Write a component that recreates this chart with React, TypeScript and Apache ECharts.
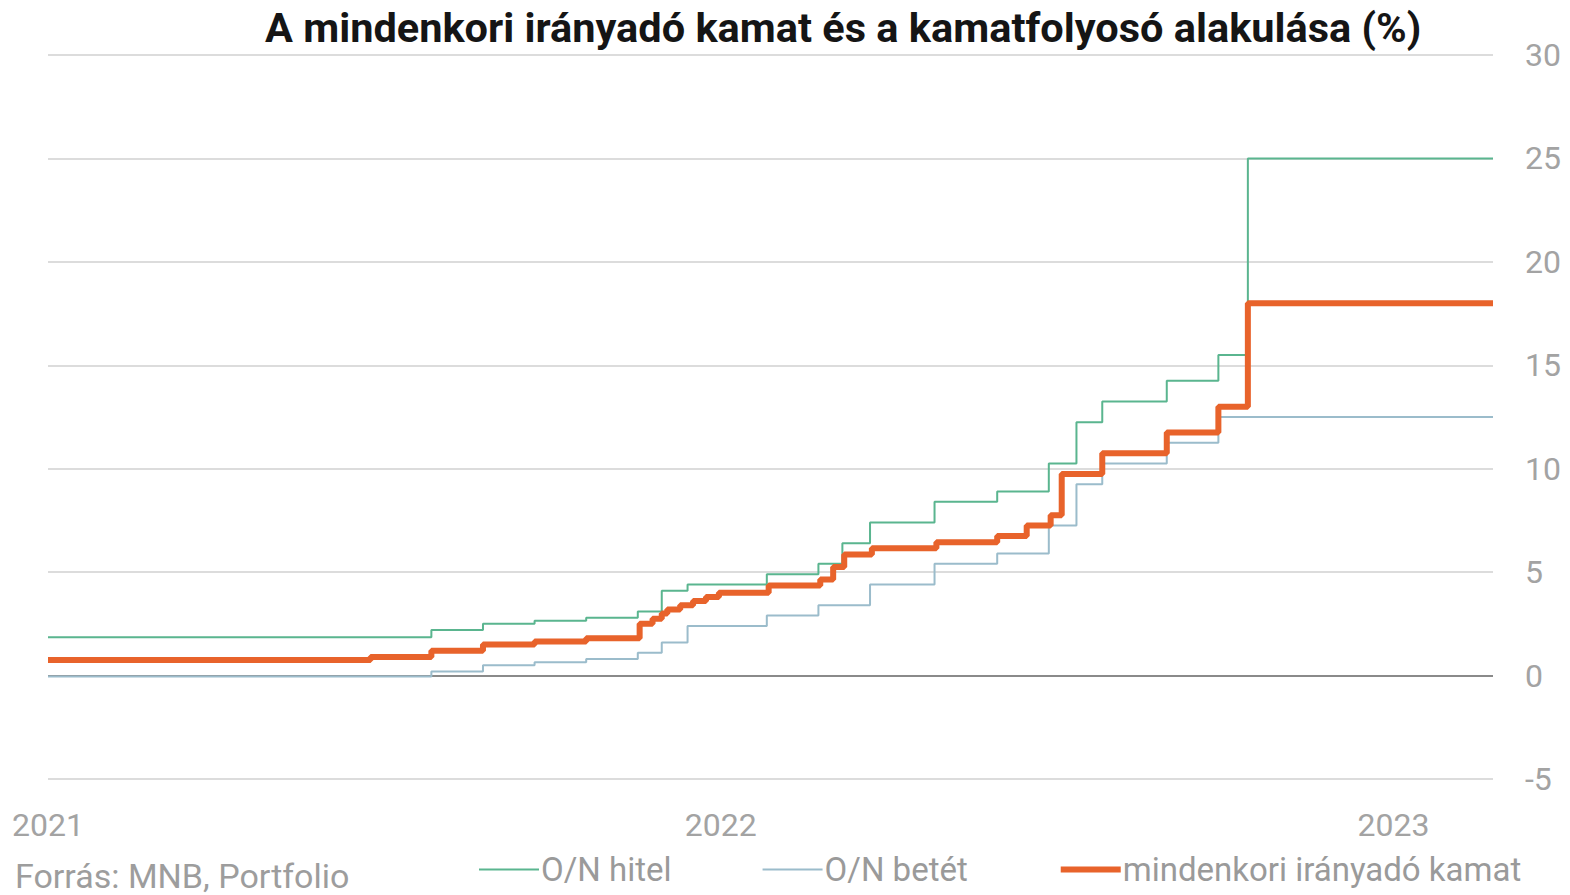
import React, { useEffect, useRef } from "react";
import * as echarts from "echarts";

const titleText = "A mindenkori irányadó kamat és a kamatfolyosó alakulása (%)";
const sourceText = "Forrás: MNB, Portfolio";
const yearLabels = ["2021", "2022", "2023"];
const axisStart = "2021-01-01";
const axisEnd = "2023-02-24";

const seriesNames = ["O/N hitel", "O/N betét", "mindenkori irányadó kamat"];

const onHitelDates = [
  "2021-01-01", "2021-07-28", "2021-08-25", "2021-09-22", "2021-10-20", "2021-11-17",
  "2021-11-30", "2021-12-14", "2022-01-26", "2022-02-23", "2022-03-08", "2022-03-23",
  "2022-04-27", "2022-05-31", "2022-06-28", "2022-07-13", "2022-07-27", "2022-08-31",
  "2022-09-28", "2022-10-14",
];
const onHitelValues = [
  1.85, 2.2, 2.5, 2.65, 2.8, 3.1,
  4.1, 4.4, 4.9, 5.4, 6.4, 7.4,
  8.4, 8.9, 10.25, 12.25, 13.25, 14.25,
  15.5, 25,
];

const onBetetDates = [
  "2021-01-01", "2021-07-28", "2021-08-25", "2021-09-22", "2021-10-20", "2021-11-17",
  "2021-11-30", "2021-12-14", "2022-01-26", "2022-02-23", "2022-03-23", "2022-04-27",
  "2022-05-31", "2022-06-28", "2022-07-13", "2022-07-27", "2022-08-31", "2022-09-28",
];
const onBetetValues = [
  -0.05, 0.2, 0.5, 0.65, 0.8, 1.1,
  1.6, 2.4, 2.9, 3.4, 4.4, 5.4,
  5.9, 7.25, 9.25, 10.25, 11.25, 12.5,
];

const policyDates = [
  "2021-01-01", "2021-06-25", "2021-07-28", "2021-08-25", "2021-09-22", "2021-10-20",
  "2021-11-18", "2021-11-25", "2021-11-30", "2021-12-03", "2021-12-10", "2021-12-17",
  "2021-12-24", "2021-12-31", "2022-01-27", "2022-02-24", "2022-03-03", "2022-03-09",
  "2022-03-24", "2022-04-28", "2022-05-31", "2022-06-16", "2022-06-29", "2022-07-05",
  "2022-07-27", "2022-08-31", "2022-09-28", "2022-10-14",
];
const policyValues = [
  0.75, 0.9, 1.2, 1.5, 1.65, 1.8,
  2.5, 2.75, 3.0, 3.2, 3.4, 3.6,
  3.8, 4.0, 4.35, 4.65, 5.25, 5.85,
  6.15, 6.45, 6.75, 7.25, 7.75, 9.75,
  10.75, 11.75, 13, 18,
];

const DAY_MS = 86400000;
function toDay(s: string): number {
  const [y, m, d] = s.split("-").map(Number);
  const [y0, m0, d0] = axisStart.split("-").map(Number);
  return (Date.UTC(y, m - 1, d) - Date.UTC(y0, m0 - 1, d0)) / DAY_MS;
}

function buildSteps(dates: string[], values: number[]): [number, number][] {
  const pts: [number, number][] = dates.map((d, i) => [toDay(d), values[i]]);
  pts.push([toDay(axisEnd), values[values.length - 1]]);
  return pts;
}

const COLORS = {
  green: "#5ab58f",
  blue: "#9bbccb",
  orange: "#e8632b",
  grid: "#dcdcdc",
  zero: "#8a8a8a",
  label: "#a3a3a3",
  title: "#151515",
};

const LINE_WIDTHS = [2, 2, 6];
const LINE_COLORS = [COLORS.green, COLORS.blue, COLORS.orange];

export default function App() {
  const ref = useRef<HTMLDivElement>(null);

  useEffect(() => {
    document.body.style.margin = "0";
    if (!ref.current) return;
    const chart = echarts.init(ref.current, undefined, { renderer: "svg" });
    const FONT = "Roboto";
    const maxDay = toDay(axisEnd);

    chart.setOption({
      animation: false,
      backgroundColor: "#ffffff",
      textStyle: { fontFamily: FONT },
      grid: { left: 48, right: 77, top: 55, bottom: 116, containLabel: false },
      xAxis: {
        type: "value",
        min: 0,
        max: maxDay,
        interval: 365,
        axisLine: { show: false },
        axisTick: { show: false },
        splitLine: { show: false },
        axisLabel: {
          margin: 30,
          fontSize: 32,
          color: COLORS.label,
          fontFamily: FONT,
          showMaxLabel: false,
          formatter: (v: number) => {
            const idx = Math.round(v / 365);
            return v % 365 === 0 && idx < yearLabels.length ? yearLabels[idx] : "";
          },
        },
      },
      yAxis: {
        type: "value",
        position: "right",
        min: -5,
        max: 30,
        interval: 5,
        axisLine: { show: false },
        axisTick: { show: false },
        splitLine: { show: true, lineStyle: { color: COLORS.grid, width: 2 } },
        axisLabel: { margin: 32, fontSize: 32, color: COLORS.label, fontFamily: FONT },
      },
      legend: {
        left: 473,
        top: 848,
        itemWidth: 60,
        itemHeight: 14,
        itemGap: 90,
        icon: "inherit",
        itemStyle: { opacity: 0 },
        textStyle: { fontSize: 33, color: "#9a9a9a", fontFamily: FONT, padding: [0, 0, 0, -3] },
        data: seriesNames.map((name, i) => ({
          name,
          lineStyle: { width: LINE_WIDTHS[i], color: LINE_COLORS[i] },
        })),
      },
      graphic: [
        {
          type: "text",
          left: 265,
          top: 6,
          style: {
            text: titleText,
            font: `bold 41.5px ${FONT}`,
            fill: COLORS.title,
          },
        },
        {
          type: "text",
          left: 15,
          top: 859,
          style: {
            text: sourceText,
            font: `34px ${FONT}`,
            fill: "#9d9d9d",
          },
        },
      ],
      series: [
        {
          name: seriesNames[0],
          type: "line",
          step: "end",
          symbol: "none",
          data: buildSteps(onHitelDates, onHitelValues),
          lineStyle: { color: COLORS.green, width: LINE_WIDTHS[0] },
          itemStyle: { color: COLORS.green },
          z: 3,
          markLine: {
            silent: true,
            symbol: "none",
            label: { show: false },
            lineStyle: { color: COLORS.zero, width: 2, type: "solid" },
            data: [{ yAxis: 0 }],
            z: 1,
          },
        },
        {
          name: seriesNames[1],
          type: "line",
          step: "end",
          symbol: "none",
          data: buildSteps(onBetetDates, onBetetValues),
          lineStyle: { color: COLORS.blue, width: LINE_WIDTHS[1] },
          itemStyle: { color: COLORS.blue },
          z: 4,
        },
        {
          name: seriesNames[2],
          type: "line",
          step: "end",
          symbol: "none",
          data: buildSteps(policyDates, policyValues),
          lineStyle: { color: COLORS.orange, width: LINE_WIDTHS[2] },
          itemStyle: { color: COLORS.orange },
          z: 5,
        },
      ],
    });

    return () => chart.dispose();
  }, []);

  return <div ref={ref} style={{ width: 1570, height: 895 }} />;
}
